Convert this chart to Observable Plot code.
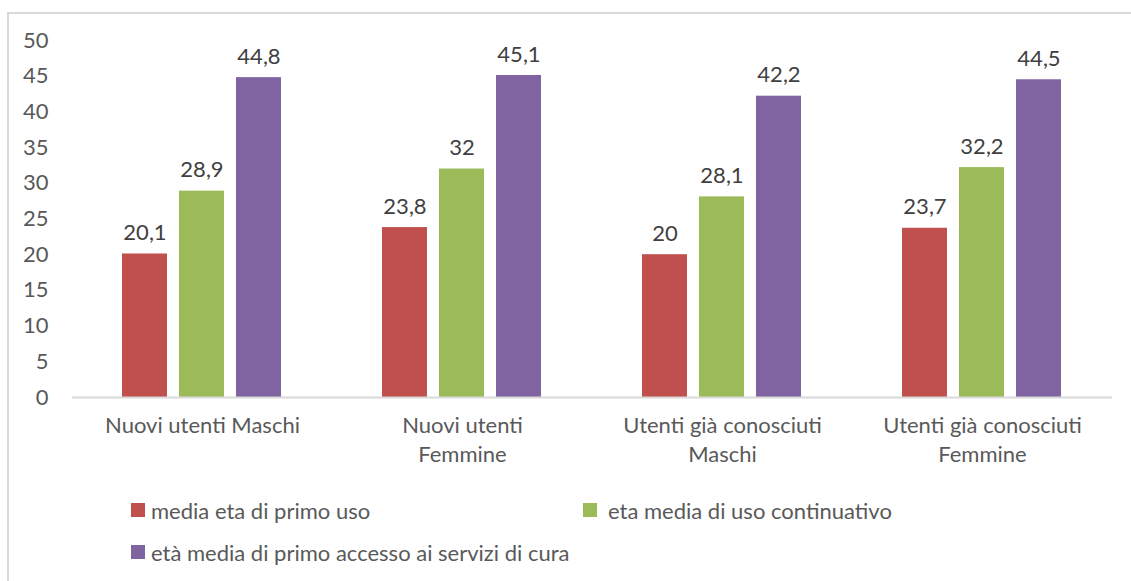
<!DOCTYPE html>
<html>
<head>
<meta charset="utf-8">
<script src="https://cdn.jsdelivr.net/npm/d3@7"></script>
<script src="https://cdn.jsdelivr.net/npm/@observablehq/plot@0.6"></script>
<style>
  html, body { margin: 0; padding: 0; background: #fff; }
  #wrap { position: relative; width: 1131px; height: 581px; overflow: hidden; font-family: Lato, "Open Sans", sans-serif; }
  #border { position: absolute; left: 7px; top: 12px; right: -5px; bottom: -5px; border-top: 2px solid #d9d9d9; border-left: 2px solid #d9d9d9; }
  #chart { position: absolute; left: 0; top: 0; }
  .leg { position: absolute; display: flex; align-items: center; font-size: 22px; color: #595959; white-space: nowrap; }
  .leg .sw { width: 14px; height: 14px; margin-right: 6px; }
</style>
</head>
<body>
<div id="wrap">
  <div id="border"></div>
  <div id="chart"></div>
  <div id="legend"></div>
</div>
<script>
const categories = ["Nuovi utenti Maschi", "Nuovi utenti Femmine", "Utenti già conosciuti Maschi", "Utenti già conosciuti Femmine"];
const categoryLabels = ["Nuovi utenti Maschi", "Nuovi utenti\nFemmine", "Utenti già conosciuti\nMaschi", "Utenti già conosciuti\nFemmine"];
const series = ["media eta di primo uso", "eta media di uso continuativo", "età media di primo accesso ai servizi di cura"];
const colors = ["#C0504D", "#9BBB59", "#8064A2"];
const primoUso = [20.1, 23.8, 20, 23.7];
const usoContinuativo = [28.9, 32, 28.1, 32.2];
const primoAccesso = [44.8, 45.1, 42.2, 44.5];
const yTicks = [0, 5, 10, 15, 20, 25, 30, 35, 40, 45, 50];

const seriesValues = [primoUso, usoContinuativo, primoAccesso];
const data = [];
categories.forEach((c, i) => {
  series.forEach((s, j) => data.push({category: c, series: s, value: seriesValues[j][i]}));
});
const fmt = v => String(v).replace(".", ",");

const chart = Plot.plot({
  width: 1131,
  height: 480,
  marginLeft: 72,
  marginRight: 19,
  marginTop: 40,
  marginBottom: 83,
  style: {fontFamily: "Lato, 'Open Sans', sans-serif", fontSize: "22px", background: "transparent", overflow: "visible"},
  fx: {domain: categories, padding: 0, label: null},
  x: {domain: series, paddingInner: 0.207, paddingOuter: 0.845, axis: null},
  y: {domain: [0, 50], label: null},
  color: {domain: series, range: colors},
  marks: [
    Plot.axisY({ticks: yTicks, tickSize: 0, tickPadding: 24, fill: "#595959", fontSize: 22, label: null}),
    Plot.axisFx({anchor: "bottom", tickSize: 0, tickPadding: 15, fill: "#595959", fontSize: 22, lineHeight: 1.32, label: null,
      tickFormat: d => categoryLabels[categories.indexOf(d)]}),
    Plot.barY(data, {fx: "category", x: "series", y: "value", fill: "series"}),
    Plot.ruleY([0], {stroke: "#d9d9d9", strokeWidth: 2}),
    Plot.text(data, {fx: "category", x: "series", y: "value", text: d => fmt(d.value), dy: -21, fill: "#404040", fontSize: 22})
  ]
});
document.getElementById("chart").appendChild(chart);

const legendPos = [[131, 510], [583, 510], [131, 552]];
const legend = document.getElementById("legend");
series.forEach((s, j) => {
  const el = document.createElement("div");
  el.className = "leg";
  el.style.left = legendPos[j][0] + "px";
  el.style.top = (legendPos[j][1] - 13) + "px";
  el.style.height = "26px";
  const sw = document.createElement("span");
  sw.className = "sw";
  sw.style.background = colors[j];
  if (j === 1) sw.style.marginRight = "11px";
  el.appendChild(sw);
  el.appendChild(document.createTextNode(s));
  legend.appendChild(el);
});
</script>
</body>
</html>
